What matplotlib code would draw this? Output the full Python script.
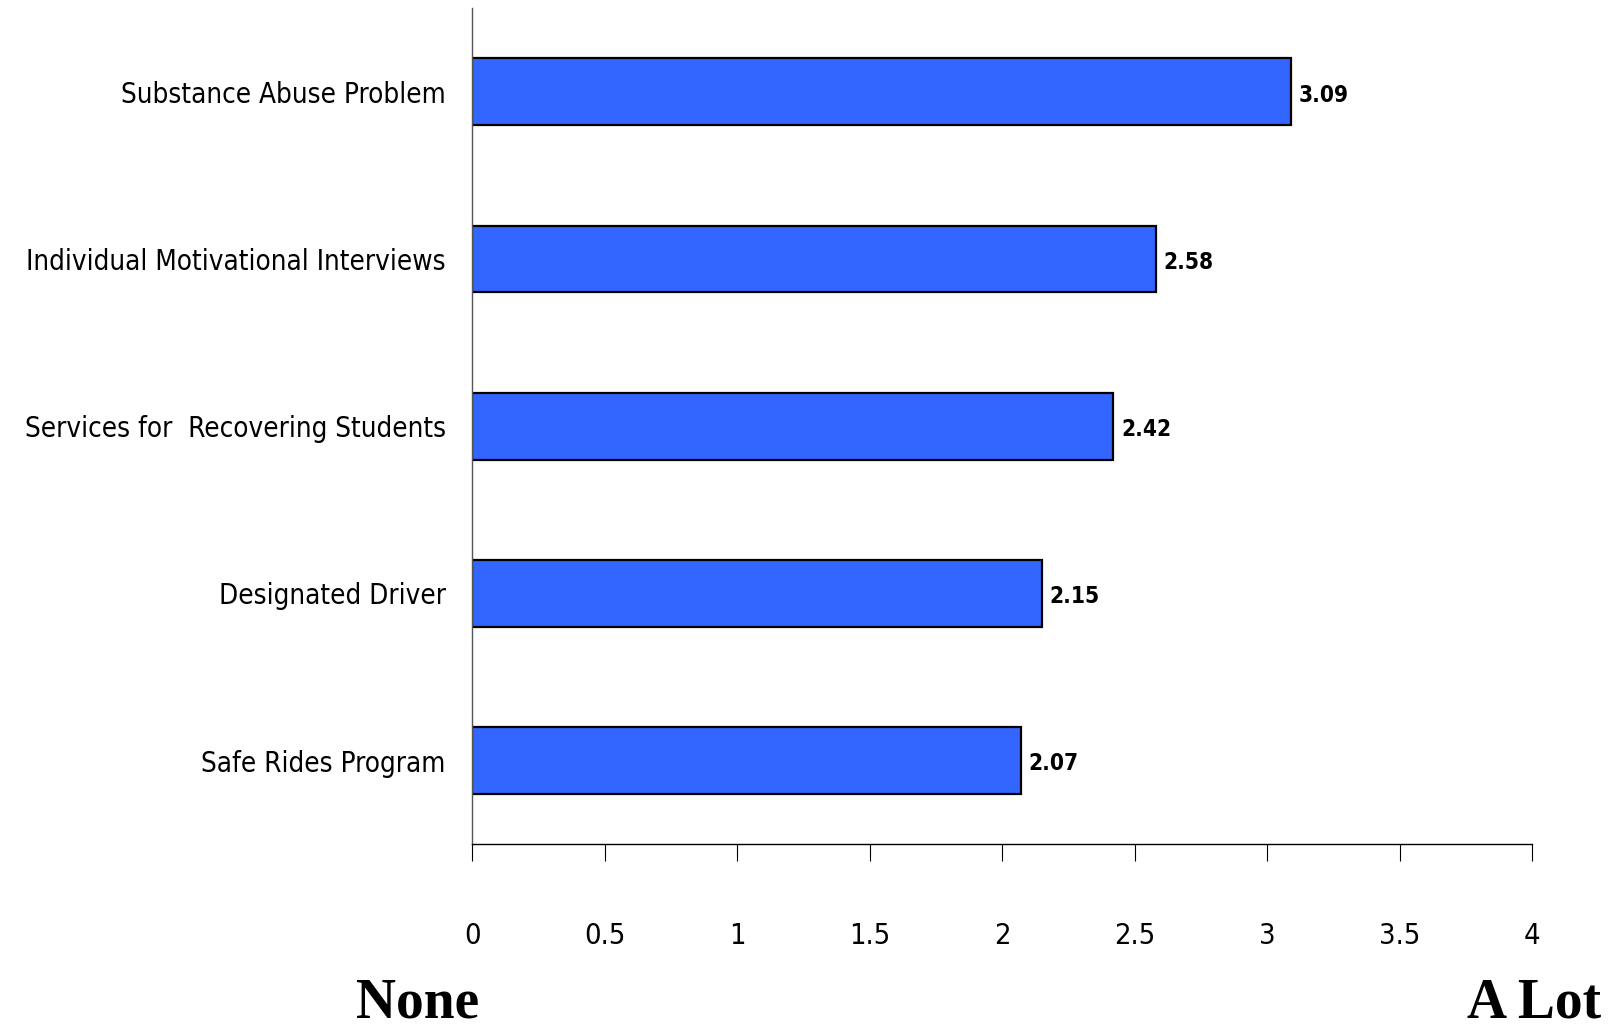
import matplotlib
matplotlib.use("Agg")
import matplotlib.pyplot as plt
from matplotlib import font_manager

# data, top to bottom as shown
categories = ["Substance Abuse Problem", "Individual Motivational Interviews",
              "Services for  Recovering Students", "Designated Driver",
              "Safe Rides Program"]
values = [3.09, 2.58, 2.42, 2.15, 2.07]
xticks = [0, 0.5, 1, 1.5, 2, 2.5, 3, 3.5, 4]
xtick_labels = ["0", "0.5", "1", "1.5", "2", "2.5", "3", "3.5", "4"]

# use a condensed sans face if one is installed, else Liberation Sans
narrow, stretch = "Liberation Sans", "normal"
for f in font_manager.fontManager.ttflist:
    if "Narrow" in f.name or "Condensed" in f.name:
        narrow, stretch = f.name, "normal"
        break
    if f.stretch in ("condensed", "semi-condensed", "extra-condensed") and f.style == "normal":
        narrow, stretch = f.name, f.stretch
        break

fig = plt.figure(figsize=(16.2, 10.27), dpi=100)
renderer = fig.canvas.get_renderer()


def fit_size(s, width_px, weight="normal", ref=20):
    # font size that gives a string the wanted pixel width
    t = fig.text(0, 0, s, family=narrow, fontstretch=stretch, fontweight=weight, fontsize=ref)
    w = t.get_window_extent(renderer).width
    t.remove()
    return ref * width_px / w


ylab_size = fit_size("Individual Motivational Interviews", 418)
tick_size = min(fit_size("0.5", 41), 30)
val_size = min(fit_size("3.09", 50, "bold"), 30)

ax = fig.add_axes([0.2914, 0.178, 0.6543, 0.814])

pos = list(range(len(categories)))[::-1]
ax.barh(pos, values, height=0.4, color="#3366FF", edgecolor="black", linewidth=1.6)

for p, v in zip(pos, values):
    ax.text(v + 0.03, p - 0.02, f"{v:.2f}", va="center", ha="left",
            fontsize=val_size, fontweight="bold", family=narrow, fontstretch=stretch)

ax.set_xlim(0, 4)
ax.set_ylim(-0.5, 4.5)
ax.set_yticks(pos)
ax.set_yticklabels(categories, family=narrow, fontstretch=stretch, fontsize=ylab_size)
ax.set_xticks(xticks)
ax.set_xticklabels(xtick_labels, family=narrow, fontstretch=stretch, fontsize=tick_size)
ax.tick_params(axis="y", length=0, pad=19)
ax.tick_params(axis="x", direction="out", length=12, width=0.8, pad=44)

for s in ["top", "right"]:
    ax.spines[s].set_visible(False)
ax.spines["left"].set_color("#555555")
ax.spines["left"].set_linewidth(1.0)
ax.spines["bottom"].set_linewidth(1.0)

fig.text(356 / 1620, 1 - 1003 / 1027, "None", ha="left", va="center",
         family="Liberation Serif", fontweight="bold", fontsize=40)
fig.text(1601 / 1620, 1 - 1003 / 1027, "A Lot", ha="right", va="center",
         family="Liberation Serif", fontweight="bold", fontsize=40)

fig.savefig("out.png", dpi=100)
